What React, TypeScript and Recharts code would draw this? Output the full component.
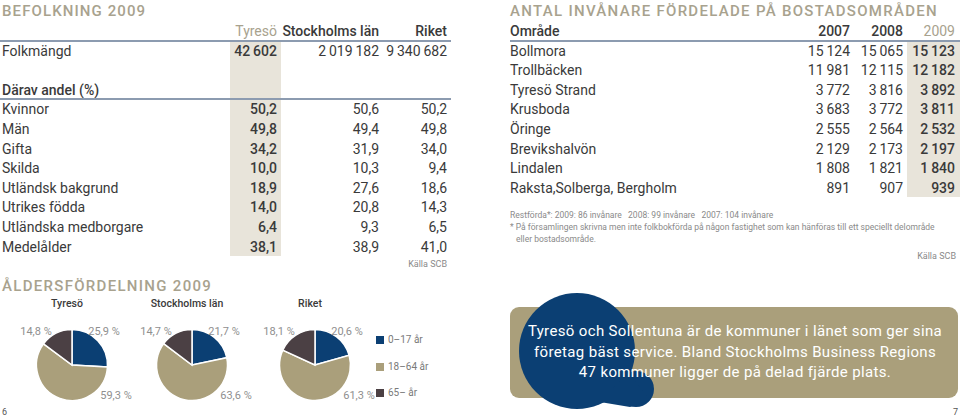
import React from "react";
import { PieChart, Pie, Cell } from "recharts";

// befolkning 2009
const regions = ["Tyresö", "Stockholms län", "Riket"];
const folkmangd = [42602, 2019182, 9340682];
const shareLabels = ["Kvinnor", "Män", "Gifta", "Skilda", "Utländsk bakgrund", "Utrikes födda", "Utländska medborgare", "Medelålder"];
const tyresoShares = [50.2, 49.8, 34.2, 10.0, 18.9, 14.0, 6.4, 38.1];
const sthlmShares = [50.6, 49.4, 31.9, 10.3, 27.6, 20.8, 9.3, 38.9];
const riketShares = [50.2, 49.8, 34.0, 9.4, 18.6, 14.3, 6.5, 41.0];

// åldersfördelning 2009
const ageGroups = ["0–17 år", "18–64 år", "65– år"];
const tyresoAges = [25.9, 59.3, 14.8];
const sthlmAges = [21.7, 63.6, 14.7];
const riketAges = [20.6, 61.3, 18.1];

// bostadsområden
const years = ["2007", "2008", "2009"];
const areas = ["Bollmora", "Trollbäcken", "Tyresö Strand", "Krusboda", "Öringe", "Brevikshalvön", "Lindalen", "Raksta,Solberga, Bergholm"];
const pop2007 = [15124, 11981, 3772, 3683, 2555, 2129, 1808, 891];
const pop2008 = [15065, 12115, 3816, 3772, 2564, 2173, 1821, 907];
const pop2009 = [15123, 12182, 3892, 3811, 2532, 2197, 1840, 939];

const BLUE = "#0b3f73";
const TAN = "#aa9f7b";
const DARK = "#4b4044";
const AGE_COLORS = [BLUE, TAN, DARK];
const TEXT = "#3a3a3a";
const TITLE = "#a8a28e";
const SHADE = "#e8e4da";
const RULE = "#8c9bb0";
const FONT = "Roboto, 'DejaVu Sans', sans-serif";

const ROW0 = 31;
const ROW_H = 19.6;

const thousands = (n: number) => n.toString().replace(/\B(?=(\d{3})+(?!\d))/g, "\u2009");
const dec = (n: number) => n.toFixed(1).replace(".", ",");

const Txt = ({ x, y, children, align = "left", size = 14, color = TEXT, weight = 400, spacing = 0 }: any) => {
  const style: React.CSSProperties = {
    position: "absolute",
    top: y - 10,
    lineHeight: "20px",
    fontSize: size,
    color,
    fontWeight: weight,
    letterSpacing: spacing,
    whiteSpace: "nowrap",
  };
  if (align === "right") style.right = 960 - x;
  else if (align === "center") { style.left = x - 250; style.width = 500; style.textAlign = "center"; }
  else style.left = x;
  return <div style={style}>{children}</div>;
};

const pieSets = [
  { name: regions[0], values: tyresoAges },
  { name: regions[1], values: sthlmAges },
  { name: regions[2], values: riketAges },
];
const pieCx = [67, 187, 310];

// where each slice label sits relative to the pie centre
const labelOffsets = [
  [32, -34],
  [44, 30],
  [-36, -34],
];

const renderLabel = (props: any) => {
  const { cx, cy, index, value } = props;
  const [dx, dy] = labelOffsets[index];
  return (
    <text x={cx + dx} y={cy + dy} fill="#8f8f8f" fontSize={11} fontFamily={FONT} textAnchor="middle" dominantBaseline="central">
      {dec(value) + " %"}
    </text>
  );
};

export default function App() {
  const leftCols = [277, 379, 447];
  const rightCols = [850, 903, 955];
  const shareCols = [tyresoShares, sthlmShares, riketShares];
  const popCols = [pop2007, pop2008, pop2009];

  return (
    <div style={{ position: "absolute", left: 0, top: 0, width: 960, height: 420, background: "#fff", fontFamily: FONT, overflow: "hidden" }}>
      {/* left page */}
      <Txt x={2} y={11} size={15} color={TITLE} spacing={1.1} weight={500}>BEFOLKNING 2009</Txt>
      <div style={{ position: "absolute", left: 230, top: 41, width: 51, height: 215, background: SHADE }} />
      {regions.map((r, i) => (
        <Txt key={r} x={leftCols[i]} y={ROW0} align="right" weight={i === 0 ? 400 : 500} color={i === 0 ? TITLE : TEXT}>{r}</Txt>
      ))}
      <div style={{ position: "absolute", left: 0, top: 40, width: 451, height: 1.5, background: RULE }} />
      <Txt x={2} y={ROW0 + ROW_H}>Folkmängd</Txt>
      {folkmangd.map((v, i) => (
        <Txt key={i} x={leftCols[i]} y={ROW0 + ROW_H} align="right" weight={i === 0 ? 500 : 400}>{thousands(v)}</Txt>
      ))}
      <Txt x={2} y={ROW0 + ROW_H * 3} weight={500}>Därav andel (%)</Txt>
      <div style={{ position: "absolute", left: 0, top: 98, width: 451, height: 1.5, background: RULE }} />
      {shareLabels.map((lab, r) => (
        <React.Fragment key={lab}>
          <Txt x={2} y={ROW0 + ROW_H * (4 + r)}>{lab}</Txt>
          {shareCols.map((col, c) => (
            <Txt key={c} x={leftCols[c]} y={ROW0 + ROW_H * (4 + r)} align="right" weight={c === 0 ? 500 : 400}>{dec(col[r])}</Txt>
          ))}
        </React.Fragment>
      ))}
      <Txt x={447} y={264} align="right" size={9} color="#8a8a8a">Källa SCB</Txt>

      <Txt x={2} y={286} size={15} color={TITLE} spacing={1.3} weight={500}>ÅLDERSFÖRDELNING 2009</Txt>
      {pieSets.map((p, i) => (
        <Txt key={p.name} x={pieCx[i]} y={304} align="center" size={10.5} weight={500}>{p.name}</Txt>
      ))}

      <div style={{ position: "absolute", left: 0, top: 290 }}>
        <PieChart width={380} height={130}>
          {pieSets.map((p, i) => (
            <Pie
              key={p.name}
              data={p.values.map((v, k) => ({ name: ageGroups[k], value: v }))}
              dataKey="value"
              cx={pieCx[i]}
              cy={70}
              outerRadius={35.5}
              startAngle={90}
              endAngle={-270}
              stroke="#fff"
              strokeWidth={1.5}
              label={renderLabel}
              labelLine={false}
              isAnimationActive={false}
            >
              {p.values.map((_, k) => (
                <Cell key={k} fill={AGE_COLORS[k]} />
              ))}
            </Pie>
          ))}
        </PieChart>
      </div>

      {ageGroups.map((g, i) => (
        <React.Fragment key={g}>
          <div style={{ position: "absolute", left: 376, top: 336 + i * 26.5, width: 8, height: 8, background: AGE_COLORS[i] }} />
          <Txt x={388} y={340 + i * 26.5} size={10} color="#7a7a7a">{g}</Txt>
        </React.Fragment>
      ))}
      <Txt x={2} y={412} size={9} color="#555">6</Txt>

      {/* right page */}
      <Txt x={510} y={11} size={15} color={TITLE} spacing={1.3} weight={500}>ANTAL INVÅNARE FÖRDELADE PÅ BOSTADSOMRÅDEN</Txt>
      <div style={{ position: "absolute", left: 907, top: 41, width: 53, height: 156, background: SHADE }} />
      <Txt x={510} y={ROW0} weight={500}>Område</Txt>
      {years.map((yr, i) => (
        <Txt key={yr} x={rightCols[i]} y={ROW0} align="right" weight={i === 2 ? 400 : 500} color={i === 2 ? TITLE : TEXT}>{yr}</Txt>
      ))}
      <div style={{ position: "absolute", left: 510, top: 40, width: 450, height: 1.5, background: RULE }} />
      {areas.map((a, r) => (
        <React.Fragment key={a}>
          <Txt x={510} y={ROW0 + ROW_H * (1 + r)}>{a}</Txt>
          {popCols.map((col, c) => (
            <Txt key={c} x={rightCols[c]} y={ROW0 + ROW_H * (1 + r)} align="right" weight={c === 2 ? 500 : 400}>{thousands(col[r])}</Txt>
          ))}
        </React.Fragment>
      ))}
      <Txt x={510} y={215} size={8.5} color="#8a8a8a">Restförda*: 2009: 86 invånare&nbsp;&nbsp; 2008: 99 invånare&nbsp;&nbsp; 2007: 104 invånare</Txt>
      <Txt x={510} y={227} size={8.5} color="#8a8a8a">* På församlingen skrivna men inte folkbokförda på någon fastighet som kan hänföras till ett speciellt delområde</Txt>
      <Txt x={516} y={239} size={8.5} color="#8a8a8a">eller bostadsområde.</Txt>
      <Txt x={956} y={256} align="right" size={9} color="#8a8a8a">Källa SCB</Txt>

      <div style={{ position: "absolute", left: 510, top: 307, width: 448, height: 91, background: TAN, borderRadius: 9 }} />
      <svg style={{ position: "absolute", left: 0, top: 0 }} width={960} height={420}>
        <circle cx={577} cy={351} r={58} fill={BLUE} />
        <circle cx={636} cy={389} r={18} fill={BLUE} />
        <path d="M600 402 L628 372 L650 400 L630 407 Z" fill={BLUE} />
      </svg>
      {[
        "Tyresö och Sollentuna är de kommuner i länet som ger sina",
        "företag bäst service. Bland Stockholms Business Regions",
        "47 kommuner ligger de på delad fjärde plats.",
      ].map((line, i) => (
        <Txt key={i} x={735} y={331 + i * 20.5} align="center" size={15} color="#fff" weight={400} spacing={0.35}>{line}</Txt>
      ))}
      <Txt x={958} y={412} align="right" size={9} color="#555">7</Txt>
    </div>
  );
}
